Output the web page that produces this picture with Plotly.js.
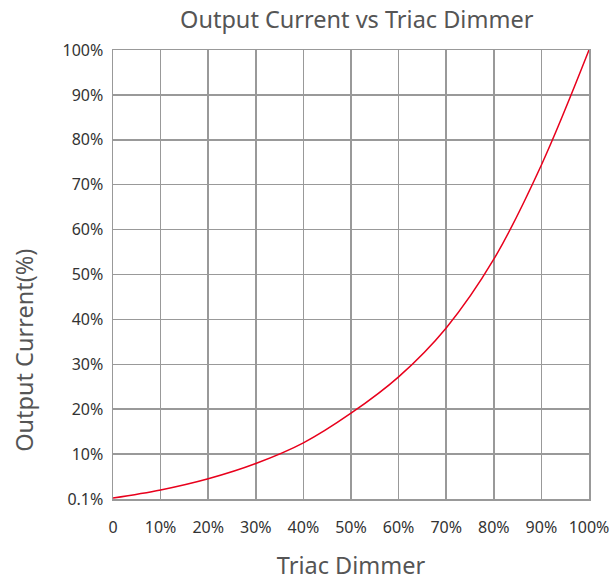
<!DOCTYPE html>
<html>
<head>
<meta charset="utf-8">
<script src="https://cdn.plot.ly/plotly-3.0.1.min.js"></script>
<style>html,body{margin:0;padding:0;background:#fff;}#chart{width:610px;height:581px;}</style>
</head>
<body>
<div id="chart"></div>
<script>
const dimmer = [0, 10, 20, 30, 40, 50, 60, 70, 80, 90, 100];
const current = [0.2, 2.0, 4.5, 7.9, 12.5, 19.1, 27.2, 38.1, 53.4, 74.4, 100];
const xTickVals = [0, 10, 20, 30, 40, 50, 60, 70, 80, 90, 100];
const xTickText = ['0', '10%', '20%', '30%', '40%', '50%', '60%', '70%', '80%', '90%', '100%'];
const yTickVals = [0, 10, 20, 30, 40, 50, 60, 70, 80, 90, 100];
const yTickText = ['0.1%', '10%', '20%', '30%', '40%', '50%', '60%', '70%', '80%', '90%', '100%'];

const font = '"Noto Sans", "Open Sans", sans-serif';
Plotly.newPlot('chart', [{
  x: dimmer, y: current, type: 'scatter', mode: 'lines',
  line: {color: '#e8001c', width: 1.5, shape: 'spline', smoothing: 1},
  hoverinfo: 'skip'
}], {
  width: 610, height: 581,
  margin: {l: 112.5, r: 21.3, t: 50, b: 82},
  paper_bgcolor: '#fff', plot_bgcolor: '#fff',
  showlegend: false,
  font: {family: font, color: '#333', size: 16},
  title: {text: 'Output Current vs Triac Dimmer', font: {family: font, size: 23.5, color: '#555'}, x: 0.512, xref: 'paper', y: 0.966, yanchor: 'middle'},
  annotations: [{
    text: 'Output Current(%)', textangle: -90, showarrow: false,
    xref: 'paper', yref: 'paper', x: -0.186, y: 0.331, xanchor: 'center', yanchor: 'middle',
    font: {family: font, size: 23.5, color: '#555'}
  }],
  xaxis: {
    range: [0, 100], tickvals: xTickVals, ticktext: xTickText,
    showgrid: true, gridcolor: '#999', gridwidth: 1.5,
    zeroline: false, showline: true, linecolor: '#999', linewidth: 1.5, mirror: true,
    ticks: 'outside', ticklen: 13, tickcolor: 'rgba(0,0,0,0)',
    tickfont: {family: font, size: 16, color: '#333'},
    title: {text: 'Triac Dimmer', font: {family: font, size: 23.5, color: '#555'}, standoff: 24}
  },
  yaxis: {
    range: [0, 100], tickvals: yTickVals, ticktext: yTickText,
    showgrid: true, gridcolor: '#999', gridwidth: 1.5,
    zeroline: false, showline: true, linecolor: '#999', linewidth: 1.5, mirror: true,
    ticks: 'outside', ticklen: 5, tickcolor: 'rgba(0,0,0,0)',
    tickfont: {family: font, size: 16, color: '#333'}
  }
}, {displayModeBar: false, staticPlot: true});
</script>
</body>
</html>
